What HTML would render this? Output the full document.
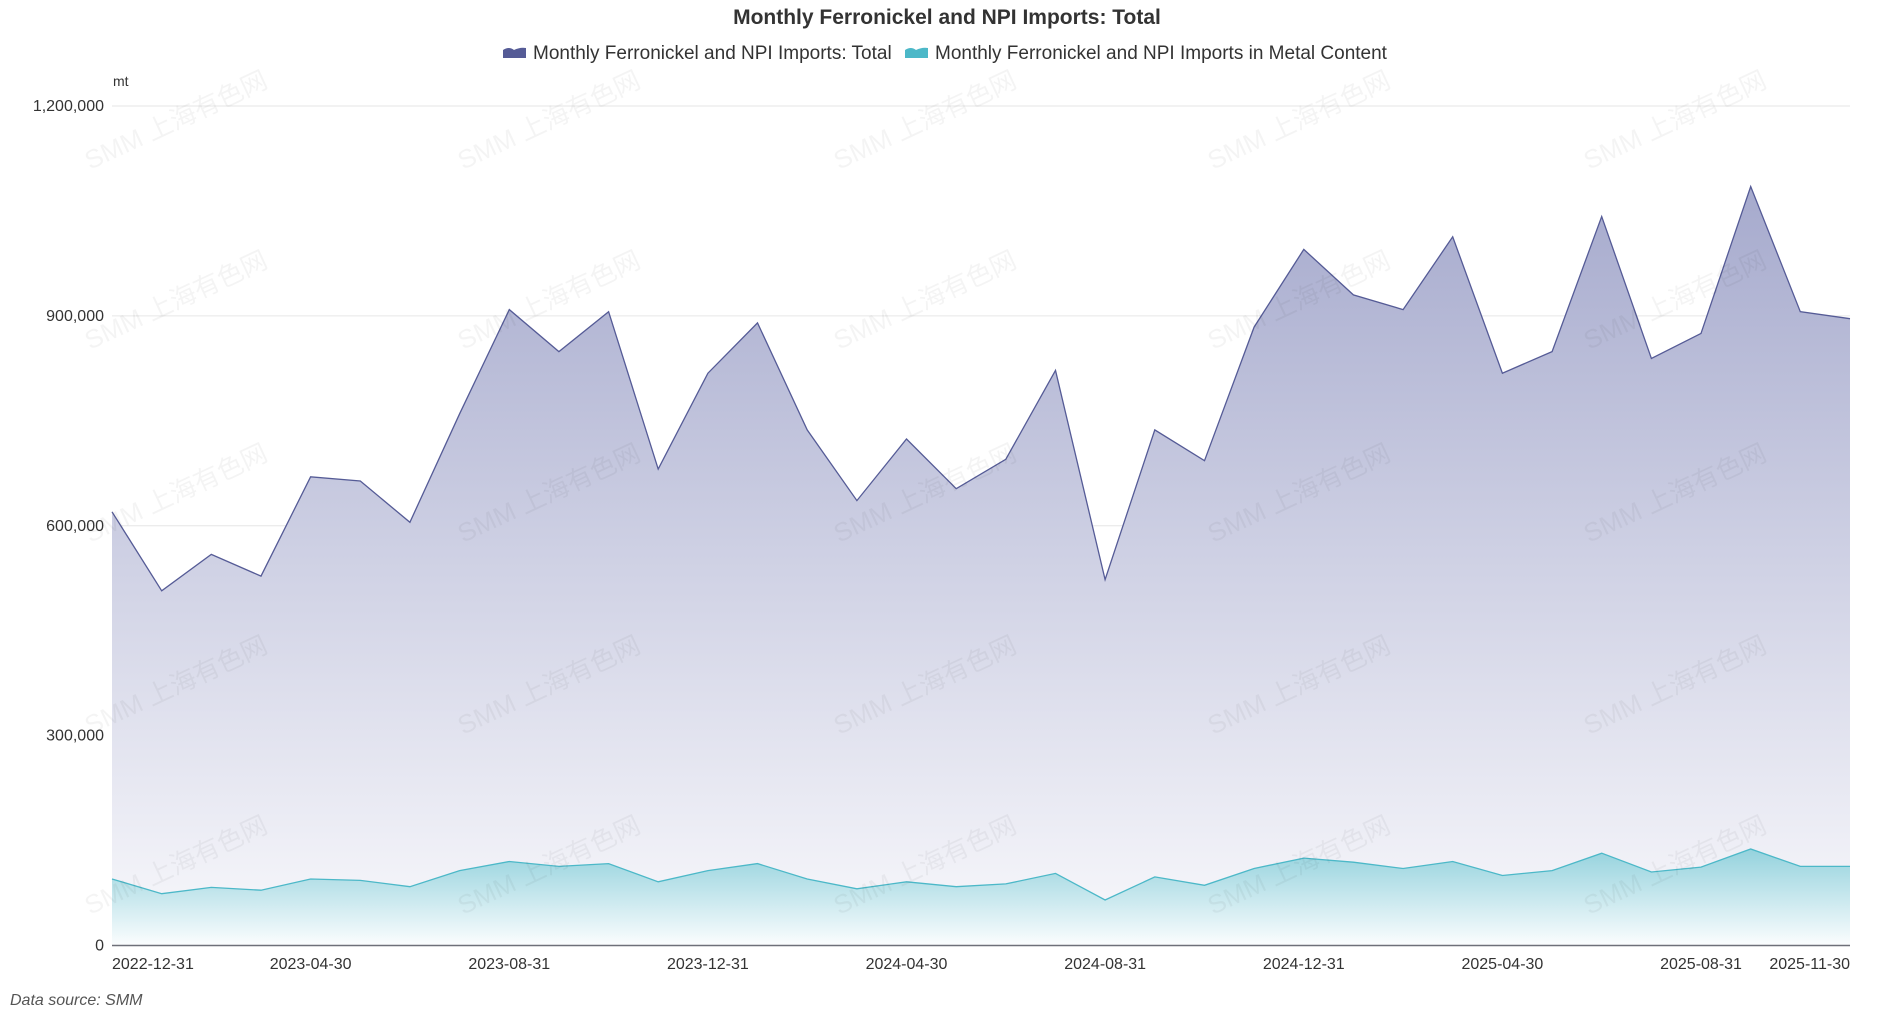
<!DOCTYPE html>
<html><head><meta charset="utf-8"><style>
html,body{margin:0;padding:0;background:#fff;width:1887px;height:1013px;overflow:hidden}
svg{display:block}
text{font-family:"Liberation Sans","Noto Sans CJK SC",sans-serif}
</style></head><body>
<svg id="c" width="1887" height="1013" xmlns="http://www.w3.org/2000/svg">
<defs>
<linearGradient id="g1" x1="0" y1="0" x2="0" y2="1"><stop offset="0" stop-color="#a6aacd"/><stop offset="1" stop-color="#f9f9fc"/></linearGradient>
<linearGradient id="g2" x1="0" y1="0" x2="0" y2="1"><stop offset="0" stop-color="#94d2dd"/><stop offset="1" stop-color="#fbfdfe"/></linearGradient>
</defs>
<g id="grid"></g>
<g id="series"></g>
<g id="wm" fill="rgba(0,0,0,0.045)" font-size="26"></g>
<g id="labels" fill="#333" font-size="16"></g>
<text x="947" y="24" text-anchor="middle" font-size="21" font-weight="bold" fill="#333">Monthly Ferronickel and NPI Imports: Total</text>
<path d="M503 58 L503 50 Q509 46 514 50 Q520 47 526 48 L526 58 Z" fill="#555b96"/>
<text x="533" y="59" font-size="19" fill="#333">Monthly Ferronickel and NPI Imports: Total</text>
<path d="M905 58 L905 50 Q911 46 916 50 Q922 47 928 48 L928 58 Z" fill="#4cb8c8"/>
<text x="935" y="59" font-size="19" fill="#333">Monthly Ferronickel and NPI Imports in Metal Content</text>
<text x="113" y="86" font-size="14" fill="#333">mt</text>
<text x="10" y="1005" font-size="16" font-style="italic" fill="#555">Data source:  SMM</text>
</svg>
<script>
var x0=112,x1=1850,yb=945.5,yt=106;
function X(i){return x0+(x1-x0)*i/35}
function Y(v){return yb-(yb-yt)*v/1200}
var A=[620,507,559,528,670,664,605,760,909,849,906,681,818,890,737,636,724,653,695,822,523,737,693,884,995,930,909,1013,818,849,1042,839,875,1085,906,896];
var B=[95,74,83,79,95,93,84,107,120,113,117,91,107,117,95,81,91,84,88,103,65,98,86,110,125,119,110,120,100,107,132,105,112,138,113,113];
var ns="http://www.w3.org/2000/svg";
function el(p,t,a,txt){var e=document.createElementNS(ns,t);for(var k in a)e.setAttribute(k,a[k]);if(txt!=null)e.textContent=txt;document.getElementById(p).appendChild(e);return e}
var yl=["0","300,000","600,000","900,000","1,200,000"];
for(var j=0;j<5;j++){var y=Y(j*300);
 if(j>0)el("grid","line",{x1:x0,x2:x1,y1:y,y2:y,stroke:"#e6e6e6","stroke-width":1});
 el("labels","text",{x:104,y:y+5,"text-anchor":"end"},yl[j]);}
var cols=[90,463,839,1213,1589],rows=[170,350,543,735,915];
cols.forEach(function(cx){rows.forEach(function(ry){el("wm","text",{x:cx,y:ry,transform:"rotate(-25 "+cx+" "+ry+")"},"SMM 上海有色网")})});
function path(D){var s="";D.forEach(function(v,i){s+=(i?"L":"M")+X(i).toFixed(1)+" "+Y(v).toFixed(1)});return s}
var pA=path(A),pB=path(B);
el("series","path",{d:pA+"L"+x1+" "+yb+"L"+x0+" "+yb+"Z",fill:"url(#g1)"});
el("series","path",{d:pB+"L"+x1+" "+yb+"L"+x0+" "+yb+"Z",fill:"url(#g2)"});
el("series","path",{d:pA,fill:"none",stroke:"#555b96","stroke-width":1.3});
el("series","path",{d:pB,fill:"none",stroke:"#4cb8c8","stroke-width":1.3});
el("series","line",{x1:x0,x2:x1,y1:yb,y2:yb,stroke:"#6e7079","stroke-width":1.5});
var months=["2022-12-31","2023-04-30","2023-08-31","2023-12-31","2024-04-30","2024-08-31","2024-12-31","2025-04-30","2025-08-31","2025-11-30"];
var idx=[0,4,8,12,16,20,24,28,32,35];
idx.forEach(function(i,k){var anc=k==0?"start":(k==idx.length-1?"end":"middle");
 el("labels","text",{x:X(i),y:969,"text-anchor":anc},months[k]);});
</script>
</body></html>
